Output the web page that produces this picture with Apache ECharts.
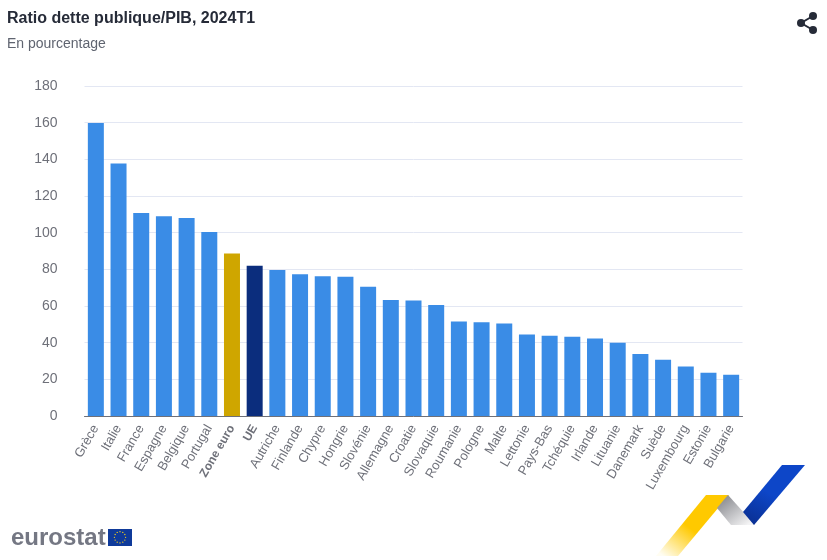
<!DOCTYPE html>
<html>
<head>
<meta charset="utf-8">
<style>
  html, body { margin: 0; padding: 0; background: #fff; }
  #chart { width: 827px; height: 560px; }
</style>
<script src="https://cdn.jsdelivr.net/npm/echarts@6/dist/echarts.min.js"></script>
</head>
<body>
<div id="chart"></div>
<script>
const countries = ['Grèce', 'Italie', 'France', 'Espagne', 'Belgique', 'Portugal', 'Zone euro', 'UE',
  'Autriche', 'Finlande', 'Chypre', 'Hongrie', 'Slovénie', 'Allemagne', 'Croatie', 'Slovaquie',
  'Roumanie', 'Pologne', 'Malte', 'Lettonie', 'Pays-Bas', 'Tchéquie', 'Irlande', 'Lituanie',
  'Danemark', 'Suède', 'Luxembourg', 'Estonie', 'Bulgarie'];
const debtRatio = [159.8, 137.7, 110.7, 108.9, 108.0, 100.4, 88.7, 81.9,
  79.7, 77.3, 76.2, 76.0, 70.5, 63.3, 63.0, 60.5,
  51.5, 51.2, 50.4, 44.4, 43.8, 43.2, 42.3, 40.0,
  33.8, 30.7, 27.0, 23.6, 22.5];
const highlight = { 'Zone euro': '#cfa600', 'UE': '#0b2d7d' };

const font = '"Liberation Sans", Arial, sans-serif';
const chart = echarts.init(document.getElementById('chart'), null, { renderer: 'canvas' });

// 12 stars of the flag, placed around the centre of the rectangle
const stars = [];
for (let i = 0; i < 12; i++) {
  const a = i * Math.PI / 6;
  stars.push({
    type: 'circle',
    shape: { cx: 120 + 5.6 * Math.cos(a), cy: 537.3 + 5.6 * Math.sin(a), r: 0.65 },
    style: { fill: '#ffd617' }
  });
}

chart.setOption({
  animation: false,
  title: [
    { text: 'Ratio dette publique/PIB, 2024T1', left: 7, top: 11, padding: 0,
      textStyle: { fontFamily: font, fontSize: 16, fontWeight: 'bold', color: '#262b38' } },
    { text: 'En pourcentage', left: 7, top: 37, padding: 0,
      textStyle: { fontFamily: font, fontSize: 14, fontWeight: 'normal', color: '#5f6470' } }
  ],
  grid: { left: 84.5, right: 84.5, top: 86, bottom: 144 },
  xAxis: {
    type: 'category',
    data: countries.map(c => highlight[c]
      ? { value: c, textStyle: { fontWeight: 'bold', fontSize: 12 } }
      : c),
    axisLine: { lineStyle: { color: '#6e7079', width: 1 } },
    axisTick: { length: 5, lineStyle: { color: '#6e7079' } },
    axisLabel: { interval: 0, rotate: 60, margin: 10, fontFamily: font, fontSize: 13, color: '#6e7079' }
  },
  yAxis: {
    type: 'value',
    min: 0,
    max: 180,
    interval: 20,
    axisLine: { show: false },
    axisTick: { show: false },
    axisLabel: { margin: 27, fontFamily: font, fontSize: 14, color: '#6e7079' },
    splitLine: { lineStyle: { color: '#e3e7f3', width: 1 } }
  },
  series: [{
    type: 'bar',
    barWidth: 16,
    data: debtRatio.map((v, i) => ({
      value: v,
      itemStyle: { color: highlight[countries[i]] || '#3a8ce6' }
    }))
  }],
  graphic: [
    // share icon
    { type: 'polyline', shape: { points: [[813, 16], [801, 23], [813, 30]] },
      style: { stroke: '#262b38', lineWidth: 2, fill: null } },
    { type: 'circle', shape: { cx: 813, cy: 16, r: 4 }, style: { fill: '#262b38' } },
    { type: 'circle', shape: { cx: 801, cy: 23, r: 4 }, style: { fill: '#262b38' } },
    { type: 'circle', shape: { cx: 813, cy: 30, r: 4 }, style: { fill: '#262b38' } },
    // logo
    { type: 'text', left: 11, top: 526,
      style: { text: 'eurostat', fontFamily: font, fontSize: 24, fontWeight: 'bold', fill: '#747783' } },
    { type: 'rect', shape: { x: 108, y: 529, width: 24, height: 17 }, style: { fill: '#0f3a9a' } },
    ...stars,
    // ribbon in the corner
    { type: 'polygon', shape: { points: [[656, 556], [706, 495], [729, 495], [678, 556]] },
      style: { fill: { type: 'linear', x: 0.1, y: 1, x2: 0.42, y2: 0.5,
        colorStops: [{ offset: 0, color: '#fffdf2' }, { offset: 1, color: '#ffc900' }] } } },
    { type: 'polygon', shape: { points: [[717, 508], [728, 495], [755, 525], [731, 525]] },
      style: { fill: { type: 'linear', x: 0.2, y: 0, x2: 0.8, y2: 1,
        colorStops: [{ offset: 0, color: '#88898e' }, { offset: 1, color: '#f4f4f5' }] } } },
    { type: 'polygon', shape: { points: [[743, 512], [782, 465], [805, 465], [754, 525]] },
      style: { fill: { type: 'linear', x: 0, y: 1, x2: 0.3, y2: 0.4,
        colorStops: [{ offset: 0, color: '#0a2d8c' }, { offset: 1, color: '#0d46c8' }] } } }
  ]
});
</script>
</body>
</html>
